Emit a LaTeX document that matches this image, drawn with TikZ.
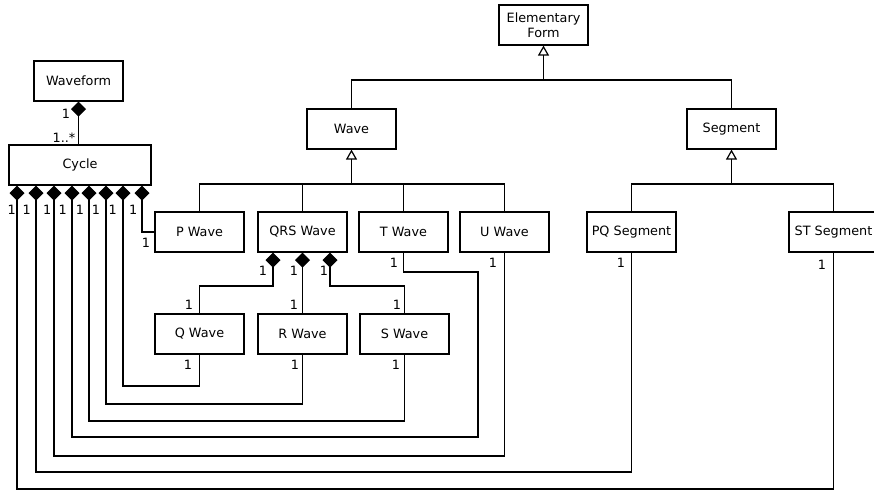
\documentclass[tikz,border=0pt]{standalone}
\usepackage{fontspec}
\setmainfont{DejaVu Sans}
\usetikzlibrary{arrows.meta}
\begin{document}
\begin{tikzpicture}[x=1pt,y=-1pt,
  font=\fontsize{12.8}{15}\selectfont,
  cls/.style={draw,line width=1.2pt,minimum width=89pt,minimum height=40pt,inner sep=0pt,align=center},
  ln/.style={line width=1.2pt},
  comp/.style={ln,{Diamond[width=15pt,length=15pt]}-},
  inh/.style={ln,-{Triangle[open,width=11pt,length=10pt]}},
  mult/.style={inner sep=0pt}]
\useasboundingbox (0,0) rectangle (874,491);
% classes
\node[cls] (ef) at (543.5,25) {Elementary\\Form};
\node[cls] (wf) at (78.5,81) {Waveform};
\node[cls,minimum width=142pt] (cy) at (80,165) {Cycle};
\node[cls] (wv) at (351.5,129) {Wave};
\node[cls] (sg) at (731.5,129) {Segment};
\node[cls] (pw) at (199.5,232) {P Wave};
\node[cls] (qrs) at (302.5,232) {QRS Wave};
\node[cls] (tw) at (403.5,232) {T Wave};
\node[cls] (uw) at (504.5,232) {U Wave};
\node[cls] (pq) at (631.5,232) {PQ Segment};
\node[cls] (st) at (833.5,232) {ST Segment};
\node[cls] (qw) at (199.5,334) {Q Wave};
\node[cls] (rw) at (302.5,334) {R Wave};
\node[cls] (sw) at (404.5,334) {S Wave};
% junctions
\coordinate (j1) at (543.5,80);
\coordinate (j2) at (351.5,184);
\coordinate (j3) at (731.5,184);
% inheritance
\draw[ln] (wv.north) |- (j1);
\draw[ln] (sg.north) |- (j1);
\draw[inh] (j1) -- (ef.south);
\draw[ln] (pw.north) |- (j2);
\draw[ln] (qrs.north) |- (j2);
\draw[ln] (tw.north) |- (j2);
\draw[ln] (uw.north) |- (j2);
\draw[inh] (j2) -- (wv.south);
\draw[ln] (pq.north) |- (j3);
\draw[ln] (st.north) |- (j3);
\draw[inh] (j3) -- (sg.south);
% composition lanes
\coordinate (l1) at (17,489);
\coordinate (l2) at (36,472);
\coordinate (l3) at (54,456);
\coordinate (l4) at (72,437);
\coordinate (l5) at (89,421);
\coordinate (l6) at (106,404);
\coordinate (l7) at (123,386);
\coordinate (l8) at (142,232);
\coordinate (tb) at (478,272);
\draw[comp] (wf.south) -- (wf.south |- cy.north);
\draw[comp] (cy.south -| l1) -- (l1) -| (st.south);
\draw[comp] (cy.south -| l2) -- (l2) -| (pq.south);
\draw[comp] (cy.south -| l3) -- (l3) -| (uw.south);
\draw[comp] (cy.south -| l4) -- (l4) -| (tb) -| (tw.south);
\draw[comp] (cy.south -| l5) -- (l5) -| (sw.south);
\draw[comp] (cy.south -| l6) -- (l6) -| (rw.south);
\draw[comp] (cy.south -| l7) -- (l7) -| (qw.south);
\draw[comp] (cy.south -| l8) |- (pw.west);
\coordinate (c1) at (273,286);
\coordinate (c3) at (330,286);
\draw[comp] (qrs.south -| c1) -- (c1) -| (qw.north);
\draw[comp] (qrs.south) -- (rw.north);
\draw[comp] (qrs.south -| c3) -- (c3) -| (sw.north);
% multiplicities
\node[mult] (m0) at (66,114) {1};
\node[mult] (m0b) at (64,138) {1..*};
\node[mult] (m1) at (11.7,210) {1};
\node[mult] (m2) at (26.7,210) {1};
\node[mult] (m3) at (47.3,210) {1};
\node[mult] (m4) at (62.7,210) {1};
\node[mult] (m5) at (80,210) {1};
\node[mult] (m6) at (96,210) {1};
\node[mult] (m7) at (112.7,210) {1};
\node[mult] (m8) at (133.3,210) {1};
\node[mult] (m9) at (146,243) {1};
\node[mult] (m10) at (263,271) {1};
\node[mult] (m11) at (294,271) {1};
\node[mult] (m12) at (324,271) {1};
\node[mult] (m13) at (189,305) {1};
\node[mult] (m14) at (188,365) {1};
\node[mult] (m15) at (294,305) {1};
\node[mult] (m16) at (295,365) {1};
\node[mult] (m17) at (397,305) {1};
\node[mult] (m18) at (396,365) {1};
\node[mult] (m19) at (394,263) {1};
\node[mult] (m20) at (493,263) {1};
\node[mult] (m21) at (621,263) {1};
\node[mult] (m22) at (822,265) {1};
\end{tikzpicture}
\end{document}
